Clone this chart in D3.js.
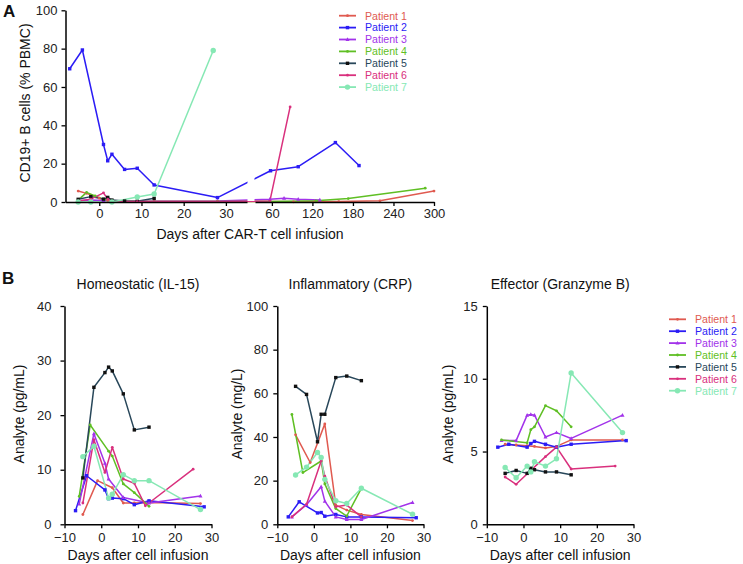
<!DOCTYPE html>
<html><head><meta charset="utf-8">
<script src="https://cdn.jsdelivr.net/npm/d3@7/dist/d3.min.js"></script>
<style>body{margin:0;background:#fff}svg{font-family:"Liberation Sans",Arial,sans-serif}</style>
</head><body><svg id="c" width="743" height="564"></svg>
<script>
// ---------- data ----------
const patients = ["Patient 1","Patient 2","Patient 3","Patient 4","Patient 5","Patient 6","Patient 7"];
const colors = ["#e05a50","#2b1cf5","#a233ea","#5fbf24","#28475a","#d9307d","#86e8b4"];
const markerColors = ["#e05a50","#2b1cf5","#a233ea","#5fbf24","#111111","#d9307d","#86e8b4"];
const markerTypes = ["small","square","triangle","small","square","small","circle"];

const ticksA_left = [0,10,20,30];
const ticksA_right = [60,120,180,240,300];
const ticksA_y = [0,20,40,60,80,100];
const ticksB_x = [-10,0,10,20,30];
const ticksIL15 = [0,10,20,30,40];
const ticksCRP = [0,20,40,60,80,100];
const ticksGZB = [0,5,10,15];

// Panel A: CD19+ B cells (% PBMC)  [day, value]
const cd19P1 = [[-5,5.7],[-3,4.5],[0,2],[2,0.8],[6,0.3],[13,0.2],[28,0.2],[57,0.2],[92,0.1],[124,0.2],[159,0.2],[220,0.6],[300,5.7]];
const cd19P2 = [[-7,69.5],[-4,79.3],[1,30],[2,21.5],[3,24.9],[6,17],[9,17.6],[13,8.9],[28,2.3],[58,16.3],[99,18.4],[154,31],[189,19]];
const cd19P3 = [[-5,0.6],[-2,1],[1,0.8],[3,0.5],[9,0.3],[13,0.4],[28,0.5],[57,1.4],[78,2],[99,1.4],[131,1.1]];
const cd19P4 = [[-5,1],[-3,5],[-1,3.2],[1,1.5],[3,0.5],[9,0.3],[13,0.2],[28,0.3],[57,0.3],[125,0.6],[173,1.8],[287,7.2]];
const cd19P5 = [[-5,1.4],[-2,2.8],[1,1.5],[2,2.4],[3,1],[6,0.5],[9,0.4],[13,1.9]];
const cd19P6 = [[-5,0.5],[-2,1.5],[1,4.8],[2,1.5],[3,0.3],[9,0.2],[13,0.2],[28,0.2],[57,0.5],[87,49.6]];
const cd19P7 = [[-5,0],[-2,0],[3,0],[9,2.6],[13,4.2],[27,79]];

// Panel B: IL-15 (pg/mL)
const il15P1 = [[-5,1.8],[-1,8],[3,6.7],[6,3.9],[9,3.9],[13,4],[27,3.8]];
const il15P2 = [[-7,2.5],[-4,8.9],[1,6.3],[2,4.7],[3,4.8],[6,4.7],[9,3.6],[13,4.3],[28,3.2]];
const il15P3 = [[-6,3.7],[-2,16.6],[1,11.2],[2,8.3],[6,4.9],[13,3.9],[27,5.2]];
const il15P4 = [[-6,5.1],[-3,18.2],[2,13.4],[3,12.5],[6,7.4],[9,5.8],[13,3.3]];
const il15P5 = [[-5,8.5],[-2,25.1],[1,27.8],[2,28.8],[3,28.1],[6,23.9],[9,17.3],[13,17.8]];
const il15P6 = [[-5,3.9],[-2,15.5],[1,9.5],[3,14.1],[6,8.3],[9,7.5],[12,3.4],[25,10.1]];
const il15P7 = [[-5,12.4],[-2,14.3],[2,4.8],[3,5.5],[6,9.1],[9,8],[13,8],[27,2.7]];

// Panel B: CRP (mg/L)
const crpP1 = [[-5,41],[-1,28.3],[3,46],[6,8.8],[9,6.5],[13,4.5],[27,1.7]];
const crpP2 = [[-7,3.4],[-4,10.3],[1,5.2],[2,5.4],[3,3.7],[6,4.5],[9,3.4],[13,3.4],[28,3]];
const crpP3 = [[-6,3.4],[-2,9],[2,17.2],[3,10.6],[6,3.4],[9,2.2],[13,2.2],[27,10]];
const crpP4 = [[-6,50.3],[-3,23.7],[2,29],[3,18.5],[6,7.2],[9,3.8],[13,16.5]];
const crpP5 = [[-5,63.2],[-2,59.5],[1,37.8],[2,50.4],[3,50.4],[6,67.2],[9,67.9],[13,65.8]];
const crpP6 = [[-6,3.4],[-2,9.2],[2,29],[3,22],[6,8],[9,8.8],[13,3.4]];
const crpP7 = [[-5,22.6],[-2,26.2],[1,32.9],[2,30.6],[3,20.6],[6,10.8],[9,9.5],[13,16.5],[27,4.6]];

// Panel B: Granzyme B (pg/mL)
const gzbP1 = [[-5,5.5],[-2,5.45],[1,5.4],[3,5.35],[6,5.25],[9,5.35],[13,5.8],[27,5.8]];
const gzbP2 = [[-7,5.3],[-4,5.5],[1,5.3],[2,5.55],[3,5.7],[6,5.5],[9,5.3],[13,5.5],[28,5.75]];
const gzbP3 = [[-6,5.75],[-2,5.75],[1,7.5],[2,7.55],[3,7.5],[6,6],[9,6.3],[13,5.9],[27,7.5]];
const gzbP4 = [[-6,5.8],[1,5.6],[2,6.5],[3,6.7],[6,8.15],[9,7.8],[13,6.7]];
const gzbP5 = [[-5,3.5],[-2,3.7],[1,3.5],[2,3.85],[3,3.75],[6,3.6],[9,3.6],[13,3.4]];
const gzbP6 = [[-5,3.25],[-2,2.75],[6,4.65],[9,5.3],[13,3.8],[25,4]];
const gzbP7 = [[-5,3.9],[-2,3.2],[1,4],[2,3.6],[3,4.3],[6,4],[9,4.5],[13,10.4],[27,6.3]];

const cd19 = [cd19P1,cd19P2,cd19P3,cd19P4,cd19P5,cd19P6,cd19P7];
const il15 = [il15P1,il15P2,il15P3,il15P4,il15P5,il15P6,il15P7];
const crp  = [crpP1,crpP2,crpP3,crpP4,crpP5,crpP6,crpP7];
const gzb  = [gzbP1,gzbP2,gzbP3,gzbP4,gzbP5,gzbP6,gzbP7];

// ---------- drawing ----------
const svg = d3.select("#c");
const FONT = '"Liberation Sans",Arial,sans-serif';

function marker(g, i, x, y) {
  const t = markerTypes[i], c = markerColors[i];
  if (t === "circle") g.append("circle").attr("cx",x).attr("cy",y).attr("r",2.7).attr("fill",c);
  else if (t === "square") g.append("rect").attr("x",x-1.7).attr("y",y-1.7).attr("width",3.4).attr("height",3.4).attr("fill",c);
  else if (t === "triangle") g.append("path").attr("d",`M${x},${y-2.2}L${x+2},${y+1.5}L${x-2},${y+1.5}Z`).attr("fill",c);
  else g.append("circle").attr("cx",x).attr("cy",y).attr("r",1.4).attr("fill",c);
}

function styleAxis(g, fs) {
  g.selectAll("path.domain").attr("stroke","#000").attr("stroke-width",1.5);
  g.selectAll(".tick line").attr("stroke","#000").attr("stroke-width",1.3);
  g.selectAll("text").attr("font-family",FONT).attr("font-size",fs).attr("fill","#222");
}

function drawSeries(g, data, fx, fy) {
  const line = d3.line().x(d => fx(d[0])).y(d => fy(d[1]));
  data.forEach((s, i) => {
    g.append("path").attr("d", line(s)).attr("fill","none").attr("stroke",colors[i])
      .attr("stroke-width",1.5).attr("stroke-linejoin","round");
  });
  data.forEach((s, i) => s.forEach(d => marker(g, i, fx(d[0]), fy(d[1]))));
}

function legend(x0, y0) {
  const g = svg.append("g");
  patients.forEach((p, i) => {
    const y = y0 + i * 11.9;
    g.append("line").attr("x1",x0).attr("x2",x0+17).attr("y1",y).attr("y2",y)
      .attr("stroke",colors[i]).attr("stroke-width",1.8);
    marker(g, i, x0+8.5, y);
    g.append("text").attr("x",x0+26).attr("y",y+3.8).text(p)
      .attr("font-family",FONT).attr("font-size",10.6).attr("fill",colors[i]);
  });
}

function label(x, y, txt, fs, opts = {}) {
  const t = svg.append("text").attr("x",x).attr("y",y).text(txt)
    .attr("font-family",FONT).attr("font-size",fs).attr("fill","#111")
    .attr("text-anchor",opts.anchor || "middle");
  if (opts.bold) t.attr("font-weight","bold");
  if (opts.rot) t.attr("transform",`rotate(-90,${x},${y})`);
  return t;
}

// ----- Panel A -----
const xL = d3.scaleLinear().domain([-8,35]).range([65.5,247]);
const xR = d3.scaleLinear().domain([35,300]).range([255,434]);
const xA = d => d <= 35 ? xL(d) : xR(d);
const yA = d3.scaleLinear().domain([0,100]).range([202,10.3]);

const gA = svg.append("g");
drawSeries(gA, cd19, xA, yA);
// axis break gap
gA.append("rect").attr("x",247.5).attr("y",0).attr("width",7).attr("height",201).attr("fill","#fff");

styleAxis(svg.append("g").attr("transform","translate(0,202)")
  .call(d3.axisBottom(xL).tickValues(ticksA_left).tickSize(4).tickSizeOuter(0).tickPadding(3)), 13);
styleAxis(svg.append("g").attr("transform","translate(0,202)")
  .call(d3.axisBottom(xR).tickValues(ticksA_right).tickSize(4).tickSizeOuter(0).tickPadding(3)), 13);
styleAxis(svg.append("g").attr("transform","translate(65.5,0)")
  .call(d3.axisLeft(yA).tickValues(ticksA_y).tickSize(4).tickSizeOuter(0).tickPadding(4)), 13);

label(30, 103, "CD19+ B cells (% PBMC)", 14, {rot:true});
label(250, 239, "Days after CAR-T cell infusion", 14);
label(3, 17, "A", 17, {bold:true, anchor:"start"});
legend(339, 15.7);

// ----- Panel B -----
const panels = [
  {x0:64.5, x1:211.5, data:il15, max:40, ticks:ticksIL15, title:"Homeostatic (IL-15)", ylab:"Analyte (pg/mL)", ylx:23.5, pad:9},
  {x0:277.3, x1:423.5, data:crp, max:100, ticks:ticksCRP, title:"Inflammatory (CRP)", ylab:"Analyte (mg/L)", ylx:241.5, pad:5},
  {x0:486.8, x1:633.5, data:gzb, max:15, ticks:ticksGZB, title:"Effector (Granzyme B)", ylab:"Analyte (pg/mL)", ylx:452.5, pad:5}
];
panels.forEach(p => {
  const x = d3.scaleLinear().domain([-10,30]).range([p.x0,p.x1]);
  const y = d3.scaleLinear().domain([0,p.max]).range([524.3,306]);
  const g = svg.append("g");
  drawSeries(g, p.data, x, y);
  styleAxis(svg.append("g").attr("transform","translate(0,524.3)")
    .call(d3.axisBottom(x).tickValues(ticksB_x).tickSize(4).tickSizeOuter(0).tickPadding(4)), 13);
  styleAxis(svg.append("g").attr("transform",`translate(${p.x0},0)`)
    .call(d3.axisLeft(y).tickValues(p.ticks).tickSize(4).tickSizeOuter(0).tickPadding(p.pad)), 13);
  label((p.x0+p.x1)/2, 289, p.title, 14);
  label((p.x0+p.x1)/2, 559.5, "Days after cell infusion", 14);
  label(p.ylx, 414, p.ylab, 14, {rot:true});
});
label(2, 284, "B", 17, {bold:true, anchor:"start"});
legend(669, 319.3);
</script></body></html>
